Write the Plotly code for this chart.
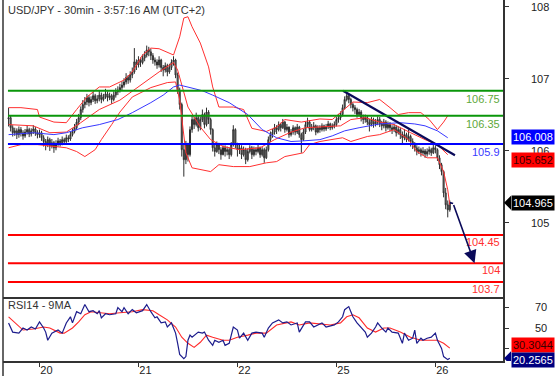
import pandas as pd
import plotly.graph_objects as go

# ---------------- data (USD/JPY 30min) ----------------
first_open = 106.30
closes = [106.32,106.16,106.08,106.11,106.05,106.13,106.08,106.03,106.09,106.13,106.06,106.11,106.14,106.08,106.05,
 106.08,106.00,105.94,105.89,105.97,105.87,105.92,105.84,105.90,105.95,
 105.92,105.97,105.94,106.00,105.98,106.05,106.10,106.16,
 106.25,106.32,106.45,106.53,106.57,
 106.64,106.56,106.61,106.67,106.59,106.62,106.68,106.61,106.65,106.70,106.64,106.67,106.61,106.68,106.73,106.76,106.80,106.84,
 106.89,106.96,106.92,107.00,107.05,
 107.21,107.16,107.24,107.20,107.27,107.32,
 107.40,107.37,107.31,107.24,
 107.21,107.16,107.24,107.12,107.08,107.15,107.05,107.12,107.20,107.24,
 107.00,106.76,106.53,105.81,
 105.65,105.89,105.73,
 106.13,106.29,106.21,106.32,106.16,
 106.29,106.37,106.21,106.41,106.29,106.13,
 105.84,105.78,105.89,105.81,105.73,105.84,105.78,
 105.81,105.73,105.89,106.13,105.89,105.81,
 105.84,105.73,105.81,105.65,105.78,105.84,105.73,
 105.81,105.78,105.84,105.73,105.81,105.68,105.81,
 105.97,106.05,106.09,106.16,106.13,
 106.21,106.16,106.25,106.13,106.17,106.05,106.09,
 106.16,106.09,106.17,106.05,105.97,106.09,
 106.21,106.25,106.13,106.16,106.19,106.09,106.16,
 106.13,106.19,106.14,106.17,106.22,106.16,106.19,106.21,
 106.29,106.32,106.37,106.48,106.61,
 106.67,106.61,106.53,106.48,
 106.45,106.37,106.41,106.32,106.29,
 106.32,106.25,106.21,106.29,106.22,106.25,
 106.29,106.22,106.19,106.25,106.16,106.21,
 106.16,106.13,106.17,106.08,106.13,106.05,
 106.00,106.05,105.97,106.02,105.94,105.89,
 105.84,105.78,105.81,105.76,105.79,105.74,
 105.78,105.81,105.76,105.84,105.81,
 105.68,105.57,105.46,
 105.12,104.93,104.85,104.965]

highs = [106.48,106.35,106.20,106.16,106.15,106.18,106.17,106.12,106.14,106.19,106.16,106.15,106.20,106.17,106.12,
 106.13,106.11,106.04,105.98,106.02,106.00,105.98,105.95,105.96,106.00,
 105.98,106.02,106.00,106.05,106.04,106.10,106.15,106.22,
 106.30,106.38,106.50,106.60,106.65,
 106.70,106.68,106.66,106.73,106.70,106.68,106.75,106.72,106.70,106.78,106.74,106.72,106.70,106.74,106.79,106.82,106.86,106.90,
 106.95,107.03,107.00,107.06,107.12,
 107.43,107.25,107.30,107.28,107.33,107.38,
 107.47,107.45,107.42,107.35,
 107.28,107.25,107.30,107.26,107.16,107.20,107.18,107.18,107.25,107.30,
 107.26,107.04,106.80,106.56,
 105.90,105.95,105.92,
 106.18,106.36,106.33,106.40,106.35,
 106.34,106.45,106.40,106.48,106.44,106.32,
 106.15,105.90,105.94,105.92,105.85,105.88,105.88,
 105.86,105.84,105.93,106.20,106.15,105.92,
 105.90,105.88,105.86,105.84,105.83,105.88,105.87,
 105.86,105.85,105.89,105.86,105.85,105.84,105.86,
 106.02,106.10,106.14,106.22,106.20,
 106.26,106.24,106.30,106.27,106.22,106.18,106.14,
 106.20,106.18,106.22,106.19,106.08,106.14,
 106.26,106.32,106.28,106.22,106.25,106.21,106.20,
 106.20,106.23,106.21,106.22,106.27,106.24,106.23,106.26,
 106.33,106.38,106.42,106.53,106.66,
 106.73,106.70,106.64,106.56,
 106.52,106.48,106.46,106.44,106.37,
 106.37,106.35,106.30,106.33,106.32,106.30,
 106.34,106.33,106.27,106.30,106.28,106.26,
 106.25,106.20,106.22,106.20,106.18,106.16,
 106.10,106.14,106.08,106.13,106.05,105.99,
 105.93,105.88,105.86,105.84,105.85,105.82,
 105.83,105.86,105.84,105.91,105.88,
 105.83,105.72,105.60,
 105.48,105.20,105.00,105.00]

lows = [106.18,106.10,106.02,106.03,105.98,106.00,106.02,105.97,106.00,106.05,106.01,106.02,106.06,106.03,105.99,
 106.00,105.95,105.86,105.80,105.85,105.79,105.83,105.76,105.80,105.86,
 105.86,105.88,105.89,105.91,105.93,105.95,106.02,106.07,
 106.12,106.20,106.28,106.40,106.47,
 106.52,106.50,106.52,106.57,106.54,106.55,106.58,106.55,106.58,106.62,106.58,106.60,106.54,106.58,106.64,106.68,106.72,106.76,
 106.80,106.85,106.86,106.88,106.95,
 107.02,107.08,107.12,107.13,107.17,107.22,
 107.28,107.30,107.24,107.18,
 107.15,107.10,107.12,107.05,106.98,107.04,106.98,107.02,107.08,107.15,
 106.95,106.70,106.45,105.70,
 105.38,105.58,105.62,
 105.70,106.08,106.14,106.18,106.10,
 106.12,106.25,106.15,106.18,106.22,106.05,
 105.78,105.70,105.76,105.74,105.65,105.72,105.70,
 105.72,105.66,105.70,105.86,105.83,105.70,
 105.74,105.66,105.70,105.58,105.62,105.75,105.66,
 105.70,105.72,105.75,105.68,105.70,105.60,105.66,
 105.78,105.93,106.00,106.05,106.06,
 106.10,106.10,106.14,106.08,106.10,106.00,106.02,
 106.05,106.04,106.06,106.00,105.76,105.95,
 106.06,106.16,106.10,106.10,106.12,106.04,106.07,
 106.08,106.10,106.10,106.11,106.14,106.12,106.13,106.15,
 106.18,106.24,106.28,106.34,106.45,
 106.58,106.55,106.47,106.42,
 106.38,106.32,106.34,106.26,106.22,
 106.24,106.20,106.10,106.18,106.16,106.18,
 106.20,106.17,106.12,106.15,106.10,106.13,
 106.10,106.06,106.09,106.02,106.05,105.98,
 105.90,105.96,105.93,105.94,105.86,105.82,
 105.78,105.72,105.74,105.70,105.72,105.68,
 105.70,105.73,105.71,105.74,105.75,
 105.63,105.50,105.40,
 105.05,104.86,104.73,104.82]

# Bollinger bands & moving average (read at bar indices)
ub_idx = [0,6,14,15,22,28,33,38,44,49,56,60,65,69,73,80,83,85,87,89,93,97,99,102,109,114,118,125,130,134,142,151,157,163,167,174,180,185,189,194,200,204,208,211,213]
ub_val = [106.48,106.48,106.45,106.33,106.25,106.24,106.45,106.65,106.81,106.81,106.92,107.05,107.32,107.43,107.42,107.32,107.61,107.91,107.93,107.77,
          107.51,107.13,106.81,106.49,106.49,106.45,106.15,106.10,106.17,106.29,106.25,106.30,106.29,106.45,106.57,106.56,106.61,106.48,106.37,106.40,
          106.40,106.29,106.13,106.25,106.35]
mb_idx = [0,12,20,28,35,44,54,64,73,80,82,87,93,98,104,112,122,129,137,144,151,161,166,173,180,187,195,202,208,213]
mb_val = [106.21,106.19,106.08,106.09,106.24,106.45,106.60,106.84,107.05,107.20,107.08,106.49,106.17,105.97,105.86,105.81,105.84,105.97,106.09,106.16,
          106.17,106.19,106.29,106.32,106.25,106.21,106.08,105.97,105.89,105.73]
lb_idx = [0,6,14,28,33,37,42,45,50,54,60,69,77,81,83,86,89,98,102,109,117,125,130,134,143,146,151,157,162,166,174,180,187,194,198,203,208,211,213,214]
lb_val = [105.84,105.89,105.89,105.84,105.78,105.70,105.81,105.97,106.21,106.41,106.65,106.80,106.88,106.89,106.60,105.76,105.52,105.46,105.57,105.54,
          105.54,105.60,105.62,105.70,105.76,105.89,105.94,105.97,106.00,105.94,106.02,106.05,106.13,105.97,105.78,105.68,105.68,105.46,105.17,104.93]
ma_idx = [0,12,22,28,36,44,53,60,69,75,80,83,88,94,99,107,116,123,130,137,143,151,157,163,170,180,190,197,202,208,213]
ma_val = [106.05,106.08,106.05,106.08,106.16,106.21,106.29,106.40,106.56,106.68,106.81,106.84,106.80,106.75,106.68,106.56,106.37,106.13,106.00,105.94,
          105.95,105.97,106.03,106.11,106.16,106.22,106.24,106.22,106.19,106.11,106.00]

# RSI14 and its 9MA
rsi_idx = [0,2,5,7,9,11,13,15,17,18,19,21,24,26,28,30,31,33,35,37,39,41,43,44,45,47,49,52,53,55,56,58,60,62,65,67,69,71,72,74,76,77,79,81,82,83,85,86,87,88,
           89,92,94,95,97,99,100,102,104,105,107,109,111,112,114,116,118,120,123,124,126,128,131,133,135,137,140,141,144,146,148,150,152,154,157,158,160,162,163,165,
           166,167,169,171,173,174,176,178,179,181,183,184,186,189,191,192,194,196,197,198,200,201,203,205,207,208,210,211,213,214]
rsi_val = [55,46,45,50,48,51,49,56,50,46,38,45,48,45,55,61,55,66,64,73,66,67,64,67,60,64,63,64,70,66,70,64,68,65,67,73,66,60,61,55,56,51,55,45,35,24,20,22,38,43,
           41,46,45,46,38,33,38,36,38,33,35,51,48,40,45,38,45,46,45,41,50,55,58,55,56,53,55,46,56,56,51,53,55,51,53,53,56,61,68,71,
           66,61,55,50,46,41,45,51,55,50,46,50,46,45,35,45,38,40,48,35,40,38,40,41,45,38,30,22,19,20.2565]
rsima_idx = [0,3,7,12,17,20,25,27,31,34,37,40,44,49,54,60,65,70,73,77,81,84,87,90,93,96,99,104,107,111,116,120,125,130,137,141,146,151,156,161,
             164,167,170,174,178,182,185,190,195,200,204,208,211,214]
rsima_val = [61,55,48,49,51,50,45,45,50,56,63,66,65,64,65,66,68,67,63,58,51,41,35,31,36,43,41,38,38,41,43,45,45,53,56,53,55,54,53,55,
             61,63,60,50,46,50,50,46,41,38,38,38,35,30.3044]

# analyst levels and drawings
green_levels = [106.75, 106.35]
blue_levels = [105.9]
red_levels = [104.45, 104.0, 103.7]
green_labels = ["106.75", "106.35"]
blue_labels = ["105.9"]
red_labels = ["104.45", "104", "103.7"]
trend_idx = [162.2, 216.5]
trend_val = [106.75, 105.72]
arrow_idx = [214, 215.6, 226.0]
arrow_val = [104.965, 104.95, 104.0]

price_ticks = [105, 106, 107, 108]
rsi_ticks = [30, 50, 70]
day_ticks = ["2016-07-20", "2016-07-21", "2016-07-22", "2016-07-25", "2016-07-26"]
day_labels = ["20", "21", "22", "25", "26"]
last_price = 104.965
bb_last_upper = 106.008
bb_last_mid = 105.652
rsi_last = 20.2565
rsima_last = 30.3044
title = "USD/JPY - 30min - 3:57:16 AM (UTC+2)"

# ---------------- time axis ----------------
n = len(closes)
times = []
t = pd.Timestamp("2016-07-19 16:30")
while len(times) < n:
    if t.weekday() < 5:
        times.append(t)
    t += pd.Timedelta(minutes=30)
step = pd.Timedelta(minutes=30)

def bar_time(f):
    if f < 0:
        return times[0] + f * step
    if f > n - 1:
        return times[-1] + (f - (n - 1)) * step
    b = int(f)
    return times[b] + (f - b) * step

opens = [first_open] + closes[:-1]

FONT = "Arial, Liberation Sans, sans-serif"
fig = go.Figure()

fig.add_trace(go.Scatter(x=[bar_time(i) for i in ub_idx], y=ub_val, mode="lines",
                         line=dict(color="#ff3030", width=1), hoverinfo="skip"))
fig.add_trace(go.Scatter(x=[bar_time(i) for i in lb_idx], y=lb_val, mode="lines",
                         line=dict(color="#ff3030", width=1), hoverinfo="skip"))
fig.add_trace(go.Scatter(x=[bar_time(i) for i in mb_idx], y=mb_val, mode="lines",
                         line=dict(color="#ff3030", width=1), hoverinfo="skip"))
fig.add_trace(go.Scatter(x=[bar_time(i) for i in ma_idx], y=ma_val, mode="lines",
                         line=dict(color="#3838ff", width=1), hoverinfo="skip"))

fig.add_trace(go.Candlestick(x=times, open=opens, high=highs, low=lows, close=closes,
                             increasing=dict(line=dict(color="#2e2e2e", width=1), fillcolor="#909090"),
                             decreasing=dict(line=dict(color="#2e2e2e", width=1), fillcolor="#909090"),
                             whiskerwidth=0, hoverinfo="skip"))

fig.add_trace(go.Scatter(x=[bar_time(i) for i in trend_idx], y=trend_val, mode="lines",
                         line=dict(color="#0a0a5a", width=2.2), hoverinfo="skip"))
fig.add_trace(go.Scatter(x=[bar_time(i) for i in arrow_idx[:2]], y=arrow_val[:2], mode="lines",
                         line=dict(color="#0a0a5a", width=1.6), hoverinfo="skip"))

# RSI panel
fig.add_trace(go.Scatter(x=[bar_time(i) for i in rsima_idx], y=rsima_val, mode="lines",
                         line=dict(color="#ff2a2a", width=1.1), xaxis="x2", yaxis="y2", hoverinfo="skip"))
fig.add_trace(go.Scatter(x=[bar_time(i) for i in rsi_idx], y=rsi_val, mode="lines",
                         line=dict(color="#1c1c8c", width=1.2), xaxis="x2", yaxis="y2", hoverinfo="skip"))

x_lo = bar_time(-2.7)
x_hi = bar_time(239.8)
x_line0 = bar_time(-0.3)

shapes = []
for lv in green_levels:
    shapes.append(dict(type="line", xref="x", yref="y", x0=x_line0, x1=x_hi, y0=lv, y1=lv,
                       line=dict(color="#0a960a", width=2)))
for lv in blue_levels:
    shapes.append(dict(type="line", xref="x", yref="y", x0=x_line0, x1=x_hi, y0=lv, y1=lv,
                       line=dict(color="#0000ff", width=2)))
for lv in red_levels:
    shapes.append(dict(type="line", xref="x", yref="y", x0=x_line0, x1=x_hi, y0=lv, y1=lv,
                       line=dict(color="#ff0000", width=2)))
# frame line on the left
shapes.append(dict(type="line", xref="paper", yref="paper", x0=0, x1=0, y0=-0.05, y1=1,
                   line=dict(color="#333333", width=1.5)))
# pointers for last price and last RSI
shapes.append(dict(type="path", xref="paper", yref="y", xsizemode="pixel", ysizemode="pixel",
                   xanchor=1, yanchor=last_price, path="M 1 0 L 8 7 L 8 -7 Z",
                   fillcolor="#000000", line=dict(width=0)))
shapes.append(dict(type="path", xref="paper", yref="y2", xsizemode="pixel", ysizemode="pixel",
                   xanchor=1, yanchor=rsi_last, path="M 1 0 L 8 7 L 8 -7 Z",
                   fillcolor="#000080", line=dict(width=0)))

ann = []
ann.append(dict(text=title, xref="paper", yref="paper", x=0, y=1, xanchor="left", yanchor="top",
                xshift=3, yshift=-2, showarrow=False, font=dict(size=11, color="#333333", family=FONT)))
ann.append(dict(text="RSI14 - 9MA", xref="paper", yref="paper", x=0, y=64 / 361, xanchor="left", yanchor="top",
                xshift=3, yshift=0, showarrow=False, font=dict(size=11, color="#333333", family=FONT)))
for lv, lab in zip(green_levels, green_labels):
    ann.append(dict(text=lab, xref="paper", yref="y", x=1, y=lv, xanchor="right", yanchor="middle",
                    xshift=-1, yshift=-8, showarrow=False, font=dict(size=11, color="#5ea83a", family=FONT)))
for lv, lab in zip(blue_levels, blue_labels):
    ann.append(dict(text=lab, xref="paper", yref="y", x=1, y=lv, xanchor="right", yanchor="middle",
                    xshift=-1, yshift=-8, showarrow=False, font=dict(size=11, color="#3a3aff", family=FONT)))
for lv, lab in zip(red_levels, red_labels):
    ann.append(dict(text=lab, xref="paper", yref="y", x=1, y=lv, xanchor="right", yanchor="middle",
                    xshift=-1, yshift=-7, showarrow=False, font=dict(size=11, color="#ff3030", family=FONT)))

def box(val, yref, bg, fg, yshift=0):
    return dict(text=f"{val}", xref="paper", yref=yref, x=1, y=val, xanchor="left", yanchor="middle",
                xshift=8, yshift=yshift, showarrow=False, bgcolor=bg, borderpad=1,
                font=dict(size=11, color=fg, family=FONT))

ann.append(box(bb_last_upper, "y", "#0000ff", "#ffffff"))
ann.append(box(bb_last_mid, "y", "#ff0000", "#3a0000"))
ann.append(box(last_price, "y", "#000000", "#ffffff"))
ann.append(box(rsima_last, "y2", "#ff0000", "#3a0000", yshift=3))
ann.append(box(rsi_last, "y2", "#000080", "#ffffff", yshift=-2))

ann.append(dict(text="", x=bar_time(arrow_idx[2]), y=arrow_val[2], xref="x", yref="y",
                ax=bar_time(arrow_idx[1]), ay=arrow_val[1], axref="x", ayref="y",
                showarrow=True, arrowhead=2, arrowsize=1.6, arrowwidth=1.6, arrowcolor="#0a0a5a"))

rb = [dict(bounds=["sat", "mon"])]
split = 64 / 361

fig.update_layout(
    width=558, height=376,
    margin=dict(l=3, r=55, t=0, b=15, autoexpand=False),
    paper_bgcolor="white", plot_bgcolor="white",
    showlegend=False,
    font=dict(family=FONT, size=11, color="#222222"),
    shapes=shapes, annotations=ann,
    xaxis=dict(domain=[0, 1], anchor="y", type="date", range=[x_lo, x_hi], rangebreaks=rb,
               showticklabels=False, ticks="", showgrid=False, zeroline=False, automargin=False,
               showline=True, linecolor="#333333", linewidth=1.5, rangeslider=dict(visible=False)),
    xaxis2=dict(domain=[0, 1], anchor="y2", type="date", range=[x_lo, x_hi], rangebreaks=rb,
                matches="x", tickvals=day_ticks, ticktext=day_labels, ticks="outside", ticklen=4,
                tickcolor="#333333", ticklabelshift=7, ticklabelstandoff=-6, showgrid=False, zeroline=False,
                automargin=False, showline=True, linecolor="#333333", linewidth=1.5,
                tickfont=dict(size=11, color="#222222", family=FONT)),
    yaxis=dict(domain=[split, 1], anchor="x", range=[103.460, 108.197], showticklabels=False,
               ticks="", showgrid=False, zeroline=False, fixedrange=True, automargin=False),
    yaxis3=dict(overlaying="y", anchor="x", side="right", range=[103.972, 108.097], tickvals=price_ticks,
                ticks="outside", ticklen=4, tickcolor="#333333", showgrid=False, zeroline=False,
                showline=True, linecolor="#333333", linewidth=1.5, automargin=False, ticklabelstandoff=20,
                tickfont=dict(size=11, color="#222222", family=FONT)),
    yaxis2=dict(domain=[0, split], anchor="x2", side="right", range=[17.65, 80.4], tickvals=rsi_ticks,
                ticks="outside", ticklen=4, tickcolor="#333333", showgrid=False, zeroline=False,
                showline=True, linecolor="#333333", linewidth=1.5, automargin=False, ticklabelstandoff=24,
                tickfont=dict(size=11, color="#222222", family=FONT)),
)
fig.add_trace(go.Scatter(x=[], y=[], yaxis="y3", xaxis="x", hoverinfo="skip"))

fig.write_html("out.html", config={"displayModeBar": False},
               post_script="document.body.style.margin='0px';")
